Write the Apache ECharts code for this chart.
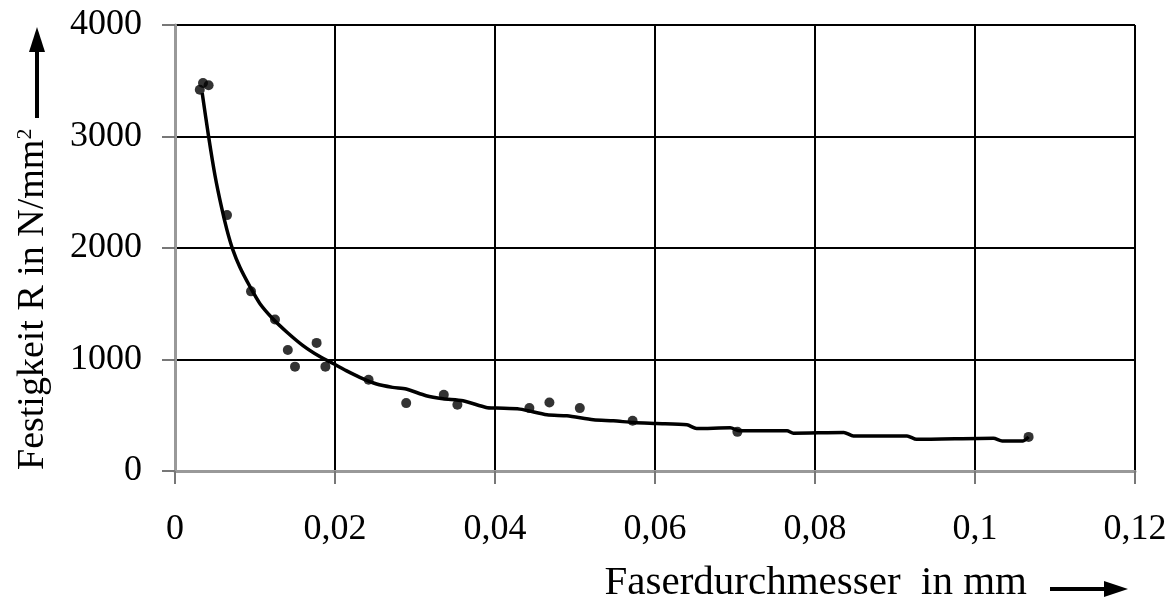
<!DOCTYPE html>
<html>
<head>
<meta charset="utf-8">
<script src="https://cdn.jsdelivr.net/npm/echarts@6/dist/echarts.min.js"></script>
<style>
html,body{margin:0;padding:0;background:#fff;}
#chart{width:1170px;height:603px;}
</style>
</head>
<body>
<div id="chart"></div>
<script>
// Measured data points: fibre diameter (mm) vs strength (N/mm²)
const pointX = [0.0031,0.0035,0.0042,0.0065,0.0095,0.0125,0.0141,0.0150,0.0177,0.0188,0.0242,0.0289,0.0336,0.0353,0.0443,0.0468,0.0506,0.0572,0.0703,0.1067];
const pointY = [3420,3480,3460,2295,1611,1359,1086,936,1149,936,819,609,684,594,564,615,564,450,351,306];

// Fitted curve (as drawn in the reference)
const curveX = [0.0034,0.0042,0.0050,0.0058,0.0065,0.0072,0.0081,0.0094,0.0106,0.0122,0.0140,0.0160,0.0181,0.0197,0.0214,0.0231,0.0252,0.0272,0.0289,0.0314,0.0335,0.0360,0.0389,0.0402,0.0431,0.0465,0.0490,0.0523,0.0548,0.0573,0.0602,0.0640,0.0652,0.0694,0.0706,0.0765,0.0773,0.0836,0.0848,0.0915,0.0927,0.1023,0.1034,0.1060,0.1067];
const curveY = [3390,3000,2650,2370,2160,1990,1830,1650,1503,1368,1245,1125,1026,966,900,840,780,750,735,675,648,630,570,564,555,504,495,459,450,435,426,414,381,387,360,360,339,345,315,315,285,294,270,270,306];

const xTickLabels = ['0','0,02','0,04','0,06','0,08','0,1','0,12'];
const yTickLabels = ['0','1000','2000','3000','4000'];

const xTitle = 'Faserdurchmesser  in mm';
const yTitle = 'Festigkeit R in N/mm';

const FONT = 'Liberation Serif';
const chart = echarts.init(document.getElementById('chart'));

const option = {
  animation: false,
  backgroundColor: '#fff',
  grid: {left: 175, right: 35, top: 25, bottom: 132, containLabel: false},
  xAxis: {
    type: 'value', min: 0, max: 0.12, interval: 0.02,
    axisLine: {show: true, onZero: false, lineStyle: {color: '#999', width: 3}},
    axisTick: {show: true, inside: false, length: 13, lineStyle: {color: '#777', width: 2}},
    axisLabel: {
      margin: 41, color: '#000', fontFamily: FONT, fontSize: 36,
      formatter: v => xTickLabels[Math.round(v / 0.02)]
    },
    splitLine: {show: true, showMinLine: false, lineStyle: {color: '#000', width: 2}}
  },
  yAxis: {
    type: 'value', min: 0, max: 4000, interval: 1000,
    axisLine: {show: true, onZero: false, lineStyle: {color: '#999', width: 3}},
    axisTick: {show: true, inside: false, length: 13, lineStyle: {color: '#777', width: 2}},
    axisLabel: {
      margin: 33, color: '#000', fontFamily: FONT, fontSize: 36,
      formatter: v => yTickLabels[Math.round(v / 1000)]
    },
    splitLine: {show: true, showMinLine: false, lineStyle: {color: '#000', width: 2}}
  },
  series: [
    {
      type: 'line',
      data: curveX.map((x, i) => [x, curveY[i]]),
      showSymbol: false,
      smooth: 0.25,
      lineStyle: {color: '#000', width: 3.5},
      z: 3
    },
    {
      type: 'scatter',
      data: pointX.map((x, i) => [x, pointY[i]]),
      symbol: 'circle',
      symbolSize: 10,
      itemStyle: {color: '#000'},
      z: 4
    }
  ],
  graphic: [
    {
      type: 'text', x: 1027, y: 583,
      style: {text: xTitle, fill: '#000', font: '41px "' + FONT + '"', align: 'right', verticalAlign: 'middle'}
    },
    {type: 'line', shape: {x1: 1050, y1: 589, x2: 1108, y2: 589}, style: {stroke: '#000', lineWidth: 4}},
    {type: 'polygon', shape: {points: [[1104, 581], [1128, 589], [1104, 597]]}, style: {fill: '#000'}},
    {
      type: 'text', x: 33, y: 470, rotation: Math.PI / 2,
      style: {
        text: yTitle + '{sup|2}', fill: '#000', font: '38px "' + FONT + '"', align: 'left', verticalAlign: 'middle',
        rich: {sup: {fontSize: 22, fontFamily: FONT, verticalAlign: 'top', padding: [0, 0, 14, 0], fill: '#000'}}
      }
    },
    {type: 'line', shape: {x1: 37, y1: 118, x2: 37, y2: 50}, style: {stroke: '#000', lineWidth: 4}},
    {type: 'polygon', shape: {points: [[29, 52], [37, 27], [45, 52]]}, style: {fill: '#000'}}
  ]
};
chart.setOption(option);
</script>
</body>
</html>
